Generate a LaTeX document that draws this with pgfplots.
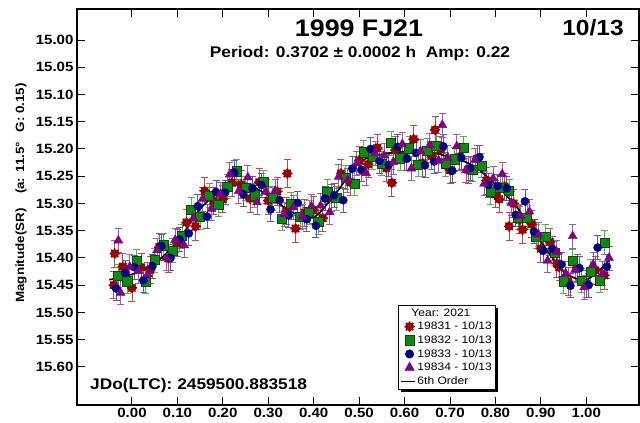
\documentclass[border=0pt]{standalone}
\usepackage{pgfplots}
\pgfplotsset{compat=1.18}
\usepackage{pgfplotstable}
\usepackage{fontspec}
\setmainfont{Liberation Sans}[FakeStretch=1.12]
\usetikzlibrary{shadows}

\definecolor{rmark}{HTML}{990000}
\definecolor{rbar}{HTML}{CC4444}
\definecolor{gmark}{HTML}{118811}
\definecolor{gedge}{HTML}{0A4A0A}
\definecolor{gbar}{HTML}{44BB44}
\definecolor{bmark}{HTML}{000080}
\definecolor{bbar}{HTML}{5555DD}
\definecolor{pmark}{HTML}{800080}
\definecolor{pbar}{HTML}{AA55AA}

\makeatletter
\tikzset{nopre/.code={\let\tikz@preactions\pgfutil@empty}}
\makeatother
\pgfplotsset{fitlegend/.style={legend image code/.code={\pgfsetlinewidth{1.6pt}\path[draw=black, nopre, line width=1.6pt] (0bp,0bp) -- (14bp,0bp);}}}

\pgfdeclareplotmark{burst}{%
  \pgfpathmoveto{\pgfpointpolar{0}{\pgfplotmarksize}}\pgfpathlineto{\pgfpointpolar{180}{\pgfplotmarksize}}%
  \pgfpathmoveto{\pgfpointpolar{45}{\pgfplotmarksize}}\pgfpathlineto{\pgfpointpolar{225}{\pgfplotmarksize}}%
  \pgfpathmoveto{\pgfpointpolar{90}{\pgfplotmarksize}}\pgfpathlineto{\pgfpointpolar{270}{\pgfplotmarksize}}%
  \pgfpathmoveto{\pgfpointpolar{135}{\pgfplotmarksize}}\pgfpathlineto{\pgfpointpolar{315}{\pgfplotmarksize}}%
  \pgfpathmoveto{\pgfpointpolar{22.5}{0.8\pgfplotmarksize}}\pgfpathlineto{\pgfpointpolar{202.5}{0.8\pgfplotmarksize}}%
  \pgfpathmoveto{\pgfpointpolar{112.5}{0.8\pgfplotmarksize}}\pgfpathlineto{\pgfpointpolar{292.5}{0.8\pgfplotmarksize}}%
  \pgfpathmoveto{\pgfpointpolar{67.5}{0.8\pgfplotmarksize}}\pgfpathlineto{\pgfpointpolar{247.5}{0.8\pgfplotmarksize}}%
  \pgfpathmoveto{\pgfpointpolar{157.5}{0.8\pgfplotmarksize}}\pgfpathlineto{\pgfpointpolar{337.5}{0.8\pgfplotmarksize}}%
  \pgfusepathqstroke}

\pgfplotstableread{
x y
-0.040 15.450
-0.038 15.392
-0.020 15.416
0.000 15.455
0.020 15.417
0.040 15.422
0.060 15.380
0.080 15.401
0.100 15.373
0.120 15.335
0.140 15.342
0.160 15.277
0.180 15.295
0.200 15.292
0.220 15.262
0.240 15.265
0.260 15.291
0.280 15.261
0.300 15.295
0.320 15.278
0.340 15.314
0.342 15.245
0.360 15.346
0.380 15.317
0.400 15.312
0.420 15.327
0.440 15.290
0.460 15.245
0.480 15.261
0.500 15.221
0.520 15.228
0.540 15.198
0.560 15.235
0.572 15.262
0.580 15.202
0.600 15.215
0.620 15.182
0.640 15.226
0.660 15.213
0.667 15.165
0.680 15.201
0.700 15.239
0.720 15.215
0.740 15.238
0.760 15.218
0.780 15.258
0.800 15.283
0.808 15.292
0.820 15.269
0.830 15.342
0.840 15.300
0.853 15.330
0.860 15.348
0.880 15.338
0.900 15.383
0.920 15.371
0.935 15.410
0.940 15.417
0.960 15.443
0.980 15.418
1.000 15.448
1.020 15.423
1.040 15.432
}\redtab

\pgfplotstableread{
x y
-0.030 15.433
-0.010 15.443
0.010 15.406
0.030 15.444
0.050 15.404
0.070 15.377
0.090 15.387
0.110 15.360
0.130 15.311
0.150 15.325
0.170 15.286
0.190 15.302
0.210 15.269
0.230 15.241
0.250 15.272
0.270 15.285
0.290 15.261
0.310 15.290
0.330 15.328
0.350 15.301
0.370 15.325
0.390 15.316
0.410 15.334
0.430 15.278
0.450 15.290
0.470 15.253
0.490 15.264
0.510 15.206
0.530 15.215
0.550 15.227
0.570 15.189
0.590 15.217
0.610 15.199
0.630 15.229
0.650 15.203
0.670 15.194
0.690 15.228
0.710 15.219
0.730 15.198
0.750 15.238
0.770 15.231
0.790 15.279
0.810 15.271
0.830 15.277
0.850 15.326
0.870 15.326
0.890 15.361
0.910 15.361
0.930 15.391
0.950 15.443
0.970 15.406
0.990 15.442
1.010 15.425
1.030 15.441
1.040 15.372
}\greentab

\pgfplotstableread{
x y
-0.035 15.456
-0.015 15.427
0.005 15.417
0.025 15.441
0.045 15.415
0.065 15.378
0.085 15.400
0.105 15.366
0.125 15.355
0.145 15.305
0.165 15.324
0.185 15.279
0.205 15.280
0.225 15.243
0.245 15.283
0.265 15.272
0.285 15.266
0.305 15.311
0.325 15.294
0.345 15.322
0.365 15.299
0.385 15.329
0.405 15.341
0.425 15.291
0.445 15.285
0.465 15.294
0.485 15.236
0.505 15.238
0.525 15.200
0.545 15.222
0.565 15.229
0.585 15.196
0.605 15.218
0.625 15.207
0.645 15.230
0.665 15.223
0.685 15.195
0.705 15.240
0.725 15.216
0.745 15.235
0.765 15.215
0.785 15.266
0.805 15.268
0.825 15.272
0.845 15.321
0.865 15.296
0.885 15.352
0.905 15.387
0.925 15.383
0.945 15.412
0.965 15.451
0.985 15.419
1.005 15.450
1.025 15.381
1.045 15.416
}\bluetab

\pgfplotstableread{
x y
-0.030 15.368
-0.025 15.464
-0.005 15.416
0.015 15.424
0.035 15.430
0.055 15.386
0.075 15.400
0.095 15.367
0.115 15.377
0.135 15.327
0.155 15.292
0.175 15.310
0.195 15.283
0.215 15.247
0.235 15.277
0.255 15.252
0.275 15.298
0.295 15.278
0.315 15.277
0.335 15.320
0.355 15.307
0.375 15.324
0.395 15.305
0.415 15.304
0.435 15.316
0.455 15.251
0.475 15.257
0.495 15.226
0.515 15.244
0.535 15.208
0.555 15.212
0.575 15.224
0.595 15.191
0.615 15.236
0.635 15.204
0.655 15.193
0.675 15.221
0.683 15.156
0.695 15.216
0.715 15.195
0.735 15.239
0.755 15.220
0.775 15.264
0.795 15.254
0.815 15.246
0.835 15.299
0.855 15.323
0.875 15.315
0.895 15.357
0.915 15.405
0.935 15.389
0.955 15.429
0.970 15.360
0.975 15.422
0.995 15.454
1.015 15.412
1.035 15.429
1.050 15.400
}\purpletab

\pgfplotstableread{
x y
-0.05 15.440
0.00 15.430
0.05 15.410
0.10 15.370
0.15 15.310
0.20 15.275
0.25 15.265
0.30 15.285
0.35 15.315
0.40 15.325
0.45 15.280
0.50 15.225
0.55 15.210
0.60 15.205
0.65 15.205
0.70 15.215
0.75 15.230
0.80 15.265
0.85 15.310
0.90 15.370
0.95 15.425
1.00 15.440
1.05 15.405
}\fittab

\begin{document}
\begin{tikzpicture}
\begin{axis}[
  at={(0,0)}, anchor=south west,
  scale only axis, width=562bp, height=396bp,
  xmin=-0.121, xmax=1.116, ymin=14.943, ymax=15.670, y dir=reverse,
  xtick={0,0.1,0.2,0.3,0.4,0.5,0.6,0.7,0.8,0.9,1.0},
  ytick={15.00,15.05,15.10,15.15,15.20,15.25,15.30,15.35,15.40,15.45,15.50,15.55,15.60},
  tick align=inside, xtick pos=both, ytick pos=both,
  major tick length=8bp,
  every tick/.style={black, line width=1pt},
  axis line style={line width=1.5pt},
  /pgf/number format/assume math mode=true,
  ticklabel style={font=\bfseries\fontsize{13.5}{14}\selectfont},
  xticklabel style={/pgf/number format/.cd, fixed, fixed zerofill, precision=2},
  yticklabel style={/pgf/number format/.cd, fixed, fixed zerofill, precision=2},
  legend cell align=left,
  legend style={at={(axis description cs:0.571,0.038)}, anchor=south west,
    draw=black, line width=0.8pt, fill=white,
    font=\fontsize{10.8}{11}\selectfont, row sep=1.2pt, inner sep=2pt,
    nodes={inner sep=1.6pt},
    drop shadow={shadow xshift=2.5bp, shadow yshift=-2.5bp, fill=black, opacity=1}},
]
\addlegendimage{empty legend}
\addlegendentry{\hspace{-6bp}Year: 2021}

\addplot[only marks, mark=burst, mark size=5.2bp, color=rmark, line width=1.5pt,
  error bars/.cd, y dir=both, y fixed=0.025,
  error bar style={color=rbar, line width=0.8pt},
  error mark options={rotate=90, color=rbar, mark size=3.5bp, line width=0.8pt}]
  table[x=x, y=y] {\redtab};
\addlegendentry{19831 - 10/13}

\addplot[only marks, mark=square*, mark size=4.6bp, mark options={fill=gmark, draw=gedge, line width=0.7pt},
  error bars/.cd, y dir=both, y fixed=0.022,
  error bar style={color=gbar, line width=0.8pt},
  error mark options={rotate=90, color=gbar, mark size=3.5bp, line width=0.8pt}]
  table[x=x, y=y] {\greentab};
\addlegendentry{19832 - 10/13}

\addplot[only marks, mark=*, mark size=4.1bp, mark options={fill=bmark, draw=bmark},
  error bars/.cd, y dir=both, y fixed=0.022,
  error bar style={color=bbar, line width=0.8pt},
  error mark options={rotate=90, color=bbar, mark size=3.5bp, line width=0.8pt}]
  table[x=x, y=y] {\bluetab};
\addlegendentry{19833 - 10/13}

\addplot[only marks, mark=triangle*, mark size=5.2bp, mark options={fill=pmark, draw=pmark},
  error bars/.cd, y dir=both, y fixed=0.022,
  error bar style={color=pbar, line width=0.8pt},
  error mark options={rotate=90, color=pbar, mark size=3.5bp, line width=0.8pt}]
  table[x=x, y=y] {\purpletab};
\addlegendentry{19834 - 10/13}

\addplot[black, line width=1.6pt, smooth, no marks, fitlegend]
  table[x=x, y=y] {\fittab};
\addlegendentry{6th Order}
\end{axis}

\node[font=\bfseries\fontsize{24}{26}\selectfont] at (282bp,377bp) {1999 FJ21};
\node[font=\bfseries\fontsize{15.5}{17}\selectfont] at (283bp,351bp) {Period: 0.3702 ± 0.0002 h\ \ Amp: 0.22};
\node[font=\bfseries\fontsize{22}{24}\selectfont] at (516bp,377bp) {10/13};
\node[font=\bfseries\fontsize{15.5}{17}\selectfont, anchor=west, inner sep=0pt] at (13bp,19bp) {JDo(LTC): 2459500.883518};
\node[font=\bfseries\fontsize{12}{13}\selectfont, rotate=90] at (-56bp,212bp) {Magnitude(SR)\hspace{1.2em}(a: 11.5°\hspace{0.8em}G: 0.15)};

\pgfresetboundingbox
\path[use as bounding box] (-77bp,-18bp) rectangle (563bp,405bp);
\end{tikzpicture}
\end{document}
